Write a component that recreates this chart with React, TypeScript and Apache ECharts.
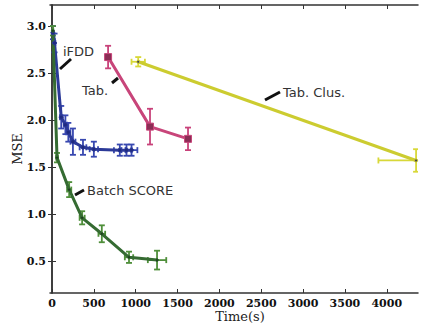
import React, { useEffect, useRef } from "react";
import * as echarts from "echarts";

const xTicks = [0, 500, 1000, 1500, 2000, 2500, 3000, 3500, 4000];
const yTicks = [0.5, 1.0, 1.5, 2.0, 2.5, 3.0];

const ifddTime = [10, 30, 110, 160, 195, 250, 370, 500, 810, 890, 950];
const ifddMse = [2.93, 2.82, 2.03, 1.95, 1.87, 1.77, 1.71, 1.69, 1.68, 1.68, 1.68];
const ifddTimeErr = [8, 10, 15, 20, 25, 30, 40, 50, 70, 60, 70];
const ifddMseErr = [0.07, 0.1, 0.12, 0.1, 0.1, 0.14, 0.08, 0.08, 0.06, 0.06, 0.06];

const batchTime = [10, 60, 205, 360, 595, 920, 1255];
const batchMse = [2.95, 1.6, 1.26, 0.96, 0.79, 0.54, 0.51];
const batchTimeErr = [5, 10, 25, 30, 40, 50, 110];
const batchMseErr = [0.05, 0.05, 0.08, 0.07, 0.09, 0.06, 0.1];

const tabTime = [670, 1171, 1625];
const tabMse = [2.67, 1.93, 1.8];
const tabTimeErr = [0, 0, 0];
const tabMseErr = [0.12, 0.19, 0.12];

const clusTime = [1030, 4350];
const clusMse = [2.62, 1.57];
const clusTimeErr = [80, 450];
const clusMseErr = [0.05, 0.12];

const zip = (xs: number[], ys: number[]) => xs.map((x, i) => [x, ys[i]]);
const zipErr = (xs: number[], ys: number[], xe: number[], ye: number[]) =>
  xs.map((x, i) => [x, ys[i], xe[i], ye[i]]);

function errorSeries(data: number[][], color: string) {
  return {
    type: "custom",
    clip: true,
    z: 3,
    data,
    renderItem: (params: any, api: any) => {
      const x = api.value(0);
      const y = api.value(1);
      const xe = api.value(2);
      const ye = api.value(3);
      const c = api.coord([x, y]);
      const top = api.coord([x, y + ye]);
      const bot = api.coord([x, y - ye]);
      const left = api.coord([x - xe, y]);
      const right = api.coord([x + xe, y]);
      const cap = 3;
      const st = { stroke: color, lineWidth: 1.8 };
      const children: any[] = [];
      if (ye > 0) {
        children.push({ type: "line", shape: { x1: c[0], y1: top[1], x2: c[0], y2: bot[1] }, style: st });
        children.push({ type: "line", shape: { x1: c[0] - cap, y1: top[1], x2: c[0] + cap, y2: top[1] }, style: st });
        children.push({ type: "line", shape: { x1: c[0] - cap, y1: bot[1], x2: c[0] + cap, y2: bot[1] }, style: st });
      }
      if (xe > 0) {
        children.push({ type: "line", shape: { x1: left[0], y1: c[1], x2: right[0], y2: c[1] }, style: st });
        children.push({ type: "line", shape: { x1: left[0], y1: c[1] - cap, x2: left[0], y2: c[1] + cap }, style: st });
        children.push({ type: "line", shape: { x1: right[0], y1: c[1] - cap, x2: right[0], y2: c[1] + cap }, style: st });
      }
      return { type: "group", children };
    },
  };
}

function lineSeries(name: string, data: number[][], color: string, symbol: string, symbolSize: number, symColor: string) {
  return {
    name,
    type: "line",
    data,
    z: 4,
    symbol,
    symbolSize,
    showSymbol: true,
    itemStyle: { color: symColor, borderColor: color, borderWidth: 1 },
    lineStyle: { color, width: 3 },
  };
}

export default function App() {
  const ref = useRef<HTMLDivElement>(null);
  useEffect(() => {
    if (!ref.current) return;
    const chart = echarts.init(ref.current, null, { renderer: "svg" });
    const tickLabel = { fontFamily: "DejaVu Serif", fontWeight: 700, fontSize: 11, color: "#111" };
    const axisLine = { show: true, lineStyle: { color: "#333", width: 1.5 } };
    const xMin = -24, xMax = 4373, yMin = 0.16, yMax = 3.224;
    const annText = { fontFamily: "DejaVu Sans", fontSize: 13, fill: "#333" };
    const annLine = { stroke: "#111", lineWidth: 3 };
    chart.setOption({
      animation: false,
      grid: { left: 50, right: 3, top: 5, bottom: 35, containLabel: false, outerBoundsMode: "none" },
      xAxis: [
        {
          type: "value", min: xMin, max: xMax, position: "bottom",
          name: "Time(s)", nameLocation: "middle", nameGap: 17, nameMoveOverlap: false,
          nameTextStyle: { fontFamily: "DejaVu Serif", fontSize: 13, color: "#222", padding: [0, 0, 0, 12], verticalAlign: "top" },
          axisLine, splitLine: { show: false },
          axisTick: { inside: true, length: 4, customValues: xTicks, lineStyle: { color: "#333" } },
          axisLabel: { ...tickLabel, margin: 5, customValues: xTicks, formatter: (v: number) => String(v) },
        },
        {
          type: "value", min: xMin, max: xMax, position: "top",
          axisLine, splitLine: { show: false },
          axisTick: { inside: true, length: 4, customValues: xTicks, lineStyle: { color: "#333" } },
          axisLabel: { show: false },
        },
      ],
      yAxis: [
        {
          type: "value", min: yMin, max: yMax, position: "left",
          name: "MSE", nameLocation: "middle", nameGap: 26, nameRotate: 90, nameMoveOverlap: false,
          nameTextStyle: { fontFamily: "DejaVu Serif", fontSize: 13, color: "#222" },
          axisLine, splitLine: { show: false },
          axisTick: { inside: true, length: 4, customValues: yTicks, lineStyle: { color: "#333" } },
          axisLabel: { ...tickLabel, margin: 4, customValues: yTicks, formatter: (v: number) => v.toFixed(1) },
        },
        {
          type: "value", min: yMin, max: yMax, position: "right",
          axisLine, splitLine: { show: false },
          axisTick: { inside: true, length: 4, customValues: yTicks, lineStyle: { color: "#333" } },
          axisLabel: { show: false },
        },
      ],
      series: [
        errorSeries(zipErr(ifddTime, ifddMse, ifddTimeErr, ifddMseErr), "#3848b0"),
        lineSeries("iFDD", zip(ifddTime, ifddMse), "#2c3a98", "circle", 4, "#1f2a80"),
        errorSeries(zipErr(batchTime, batchMse, batchTimeErr, batchMseErr), "#4f8f3a"),
        lineSeries("Batch SCORE", zip(batchTime, batchMse), "#356b32", "circle", 3, "#1e3d1e"),
        errorSeries(zipErr(tabTime, tabMse, tabTimeErr, tabMseErr), "#c8427a"),
        lineSeries("Tab.", zip(tabTime, tabMse), "#c8457a", "rect", 7, "#8a2e55"),
        errorSeries(zipErr(clusTime, clusMse, clusTimeErr, clusMseErr), "#d8d838"),
        lineSeries("Tab. Clus.", zip(clusTime, clusMse), "#cccc30", "circle", 3, "#444"),
      ],
      graphic: [
        { type: "line", shape: { x1: 60, y1: 69, x2: 71, y2: 59 }, style: annLine },
        { type: "text", x: 63, y: 51, style: { ...annText, text: "iFDD", verticalAlign: "middle" } },
        { type: "line", shape: { x1: 112, y1: 83, x2: 118, y2: 78 }, style: annLine },
        { type: "text", x: 82, y: 90, style: { ...annText, text: "Tab.", verticalAlign: "middle" } },
        { type: "line", shape: { x1: 265, y1: 100, x2: 280, y2: 92 }, style: annLine },
        { type: "text", x: 283, y: 92, style: { ...annText, text: "Tab. Clus.", verticalAlign: "middle" } },
        { type: "line", shape: { x1: 75, y1: 195, x2: 84, y2: 190 }, style: annLine },
        { type: "text", x: 87, y: 190, style: { ...annText, text: "Batch SCORE", verticalAlign: "middle" } },
      ],
    });
    return () => chart.dispose();
  }, []);
  return <div ref={ref} style={{ width: 421, height: 328, position: "absolute", left: 0, top: 0 }} />;
}
